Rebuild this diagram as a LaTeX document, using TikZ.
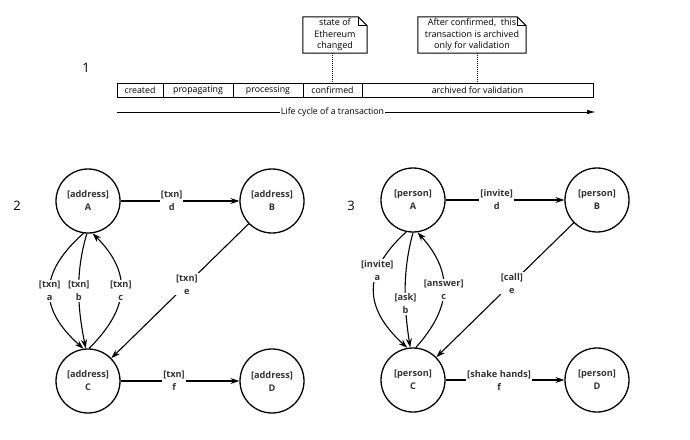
\documentclass[tikz,border=0pt]{standalone}
\usepackage{fontspec}
\setmainfont{Open Sans}
\usetikzlibrary{arrows.meta}
\begin{document}
\begin{tikzpicture}[x=1pt,y=-1pt,
  circ/.style={circle,draw,line width=1.3pt,minimum size=64pt,inner sep=0pt,align=center,
    font=\fontsize{9.2}{13}\selectfont\bfseries, text=black!80},
  lbl/.style={fill=white,inner sep=1pt,align=center,font=\fontsize{9.2}{13}\selectfont\bfseries, text=black!80},
  arr/.style={line width=1.1pt,-{Stealth[length=9pt,width=6pt]}},
  seg/.style={draw,line width=1pt,minimum height=14pt,inner sep=0pt,font=\fontsize{8.8}{10}\selectfont},
  notetext/.style={inner sep=0pt,align=center,font=\fontsize{9}{11.5}\selectfont},
  notebox/.style={line width=1pt},
  num/.style={font=\fontsize{13}{15}\selectfont}
]
\useasboundingbox (0,0) rectangle (690,439);

% ---- section 1 ----
\node[num] (one) at (86,68) {1};
\node[seg,minimum width=46pt]  (s1) at (140,90)   {created};
\node[seg,minimum width=70pt]  (s2) at (198,90)   {propagating};
\node[seg,minimum width=70pt]  (s3) at (268,90)   {processing};
\node[seg,minimum width=59pt]  (s4) at (332.5,90) {confirmed};
\node[seg,minimum width=231pt] (s5) at (477.5,90) {archived for validation};

\node[notetext,minimum width=64pt,minimum height=36pt] (n1) at (335,35) {state of\\Ethereum\\changed};
\draw[notebox] (n1.north west) -- ([xshift=-9pt]n1.north east) -- ([yshift=-9pt]n1.north east) -- (n1.south east) -- (n1.south west) -- cycle;
\draw[notebox] ([xshift=-9pt]n1.north east) -- ([xshift=-9pt,yshift=-9pt]n1.north east) -- ([yshift=-9pt]n1.north east);

\node[notetext,minimum width=108pt,minimum height=36pt] (n2) at (472,35) {After confirmed,~ this\\transaction is archived\\only for validation};
\draw[notebox] (n2.north west) -- ([xshift=-9pt]n2.north east) -- ([yshift=-9pt]n2.north east) -- (n2.south east) -- (n2.south west) -- cycle;
\draw[notebox] ([xshift=-9pt]n2.north east) -- ([xshift=-9pt,yshift=-9pt]n2.north east) -- ([yshift=-9pt]n2.north east);

\draw[line width=1pt,densely dotted] (s4.north |- n1.south) -- (s4.north);
\draw[line width=1pt,densely dotted] (s5.north |- n2.south) -- (s5.north);

\coordinate (l0) at (117,112);
\coordinate (l1) at (596,112);
\draw[line width=1pt,-{Latex[length=9pt,width=4.5pt]}] (l0) -- node[pos=0.45,fill=white,inner sep=1pt,font=\fontsize{8.8}{10}\selectfont]{Life cycle of a transaction} (l1);

% ---- section 2 ----
\node[num] (two) at (17,206) {2};
\node[circ] (A2) at (88,201) {[address]\\A};
\node[circ] (B2) at (272,201) {[address]\\B};
\node[circ] (C2) at (88,381) {[address]\\C};
\node[circ] (D2) at (272,381) {[address]\\D};

\draw[arr] (A2) -- node[lbl,pos=0.43]{[txn]\\d} (B2);
\draw[arr] (B2) -- node[lbl,pos=0.45]{[txn]\\e} (C2);
\draw[arr] (C2) -- node[lbl,pos=0.45]{[txn]\\f} (D2);
\draw[arr] (A2.262) .. controls +(-45,40) and +(-45,-40) .. node[lbl]{[txn]\\a} (C2.98);
\draw[arr] (A2.268) .. controls +(-12,40) and +(-8,-40) .. node[lbl]{[txn]\\b} (C2.94);
\draw[arr] (C2.88) .. controls +(40,-40) and +(40,40) .. node[lbl]{[txn]\\c} (A2.278);

% ---- section 3 ----
\node[num] (three) at (351,206) {3};
\node[circ] (A3) at (413,200) {[person]\\A};
\node[circ] (B3) at (597,200) {[person]\\B};
\node[circ] (C3) at (413,380) {[person]\\C};
\node[circ] (D3) at (597,380) {[person]\\D};

\draw[arr] (A3) -- node[lbl,pos=0.43]{[invite]\\d} (B3);
\draw[arr] (B3) -- node[lbl,pos=0.45]{[call]\\e} (C3);
\draw[arr] (C3) -- node[lbl,pos=0.45]{[shake hands]\\f} (D3);
\draw[arr] (A3.258) .. controls +(-44,40) and +(-44,-40) .. node[lbl,pos=0.33]{[invite]\\a} (C3.100);
\draw[arr] (A3.270) .. controls +(-11,40) and +(-6,-40) .. node[lbl,pos=0.62]{[ask]\\b} (C3.95);
\draw[arr] (C3.85) .. controls +(36,-40) and +(36,40) .. node[lbl]{[answer]\\c} (A3.278);
\end{tikzpicture}
\end{document}
